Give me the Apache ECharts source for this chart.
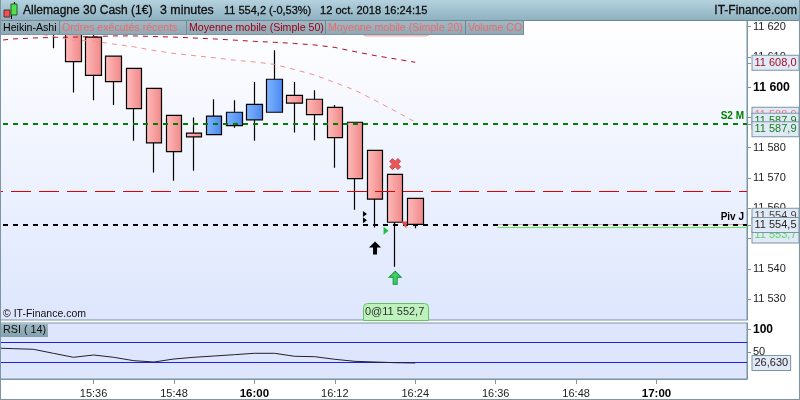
<!DOCTYPE html>
<html><head><meta charset="utf-8">
<style>html,body{margin:0;padding:0;background:#fff}#c{width:800px;height:400px}</style>
<script src="https://cdn.jsdelivr.net/npm/echarts@6/dist/echarts.min.js"></script>
</head><body><div id="c"></div>
<script>
const categories=['15:21','15:24','15:27','15:30','15:33','15:36','15:39','15:42','15:45','15:48','15:51','15:54','15:57','16:00','16:03','16:06','16:09','16:12','16:15','16:18','16:21','16:24','16:27','16:30','16:33','16:36','16:39','16:42','16:45','16:48','16:51','16:54','16:57','17:00','17:03','17:06','17:09','17:12'];
const timeLabels=['15:36','15:48','16:00','16:12','16:24','16:36','16:48','17:00'];
const boldTimes=['16:00','17:00'];
// open, close, low, high
const candles=[['-','-','-','-'],['-','-','-','-'],['-','-','-','-'],
[11628,11621,11612.8,11630],
[11619.5,11608.4,11598.2,11622],
[11616.5,11603.9,11595.7,11620],
[11610.2,11601.8,11594.1,11610.2],
[11606.2,11592.9,11582.3,11606.2],
[11599.6,11581.6,11571.8,11599.6],
[11590.7,11578.7,11569.1,11590.7],
[11584.8,11583.6,11572.4,11590.0],
[11584.3,11590.4,11584.3,11596.0],
[11587.3,11591.7,11586.6,11595.7],
[11589.2,11594.3,11582.3,11601.7],
[11591.7,11602.6,11591.7,11612.2],
[11597.3,11594.7,11585.0,11601.7],
[11596.0,11590.9,11582.5,11599.0],
[11593.3,11583.3,11573.4,11594.1],
[11588.4,11569.8,11559.5,11588.4],
[11579.1,11563.0,11553.7,11579.1],
[11571.2,11555.4,11540.7,11571.2],
[11563.3,11554.7,11553.4,11563.3]];
const ma50=[11615.2,11615.9,11616.2,11616.4,11616.5,11616.7,11616.9,11616.9,11616.7,11616.5,11616.2,11615.9,11615.5,11615.1,11614.8,11614.4,11613.9,11613.1,11611.7,11610.4,11609.3,11608.2];
const ma20=[11619.5,11618.8,11617.9,11616.7,11615.5,11615.2,11614.2,11613.3,11612.1,11611.1,11610.4,11609.7,11608.9,11608.3,11607.5,11605.8,11604.0,11601.5,11599.0,11595.6,11592.1,11588.5];
const rsi=[59.4,58,56.6,47.8,39.1,44.1,39.1,31.7,28.8,35.4,39.1,41.9,44.8,47.8,47.8,41.3,40.4,34.7,30.3,28.8,27.3,26.63];
const rsiBands=[71.4,28.2];
const priceTicks=[11530,11540,11550,11560,11570,11580,11590,11600,11610,11620];
const tagTicks=[11608.0,11587.9,11554.5];
const rsiTicks=[50,100];
const s2=11587.9, pivot=11554.5, resistance=11565.6, askLevel=11554.6, bidLevel=11553.7;
// value, text, colour, vertical shift of the tag, in drawing order
const tags=[[11608.0,'11 608,0','#a01020',0],[11588.9,'11 588,9','#f07878',-6],[11587.9,'11 587,9','#108018',-3],[11587.9,'11 587,9','#108018',5.5],[11553.7,'11 553,7','#50d860',8],[11554.9,'11 554,9','#444444',-8],[11554.5,'11 554,5','#222222',0]];
const titleParts=[['Allemagne 30 Cash (1€)',23,12],['3 minutes',160,12.4],['11 554,2 (-0,53%)',224,11],['12 oct. 2018 16:24:15',320,11.1]];
const legendChips=[['Heikin-Ashi',1,59,'#000000'],['Ordres exécutés récents',60,186,'#f06a6a'],['Moyenne mobile (Simple 50)',187,325,'#a00018'],['Moyenne mobile (Simple 20)',326,465,'#f06a6a'],['Volume CO',466,523,'#f06a6a']];

const FONT='"Liberation Sans",Arial,sans-serif';
const fmt=v=>String(v).replace(/^(\d\d)(\d+)/,'$1 $2');
const grad=(a,b,h)=>new echarts.graphic.LinearGradient(0,0,h?1:0,h?0:1,[{offset:0,color:a},{offset:1,color:b}]);
const rect=(x,y,w,h,fill,extra)=>Object.assign({type:'rect',silent:true,z:100,shape:{x,y,width:w,height:h},style:{fill}},extra||{});
const txt=(x,y,t,fill,size,extra)=>({type:'text',silent:true,z:101,x,y,style:Object.assign({text:t,fill,font:size+'px '+FONT,verticalAlign:'middle'},extra||{})});
const frame='#7b95a3';
const graphics=[
 rect(0,0,800,20,grad('#b4d2de','#8fb1c0')),
 rect(0,20,800,1,'#6f8a96'),
 rect(0,0,1,400,frame),rect(799,0,1,400,frame),rect(0,399,800,1,frame),
 rect(11,5,1,14,'#000'),rect(4,10,6,7,'#f05050',{style:{fill:'#f05050',stroke:'#503030',lineWidth:1}}),
 rect(11,4,6,11,'#50e050',{style:{fill:'#50e050',stroke:'#206020',lineWidth:1}}),
 rect(14,2,1,2,'#000'),
 rect(363,30,66,6,'#ffc0c0',{shape:{x:363,y:30,width:66,height:6,r:3},style:{fill:'#ffd0d0',stroke:'#f8a8a8',lineWidth:1}}),
 txt(797,11,'IT-Finance.com','#101010',12,{align:'right',stroke:'#101010',lineWidth:0.3}),
 txt(3,314,'© IT-Finance.com','#101010',10.5),
 rect(1,324,47,13,grad('#9fb8c4','#82a0ae')),
 txt(3,330.5,'RSI ( 14)','#101010',10.8),
 {type:'rect',silent:true,z:100,shape:{x:363.5,y:303.5,width:65,height:17,r:[4,4,0,0]},style:{fill:'#bdf2bd',stroke:'#62c562',lineWidth:1}},
 txt(365,312,'0@11 552,7','#303030',11)
];
titleParts.forEach(p=>graphics.push(txt(p[1],11,p[0],'#101010',p[2],{stroke:'#101010',lineWidth:0.3})));
legendChips.forEach(c=>{
 graphics.push(rect(c[1],21,c[2]-c[1],13.5,grad('#9fb8c4','#8ea8b4')));
 graphics.push(rect(c[2],21,1,14,'#6f8a96'));
 graphics.push(txt(c[1]+2,28,c[0],c[3],10.6));
});
graphics.push(rect(0,34,524,1,'#7b95a3'));

const hline=(v,color,w,dash,label)=>({yAxis:v,lineStyle:{color,width:w,type:dash},label:label?{show:true,formatter:label,position:'insideEndTop',distance:3,color,fontFamily:FONT,fontWeight:'bold',fontSize:10}:{show:false}});
const scatter=(name,symbol,size,x,v,offset,fill,stroke)=>({name,type:'scatter',xAxisIndex:0,yAxisIndex:0,symbol,symbolSize:size,symbolOffset:offset,silent:true,z:6,itemStyle:{color:fill,borderColor:stroke||fill,borderWidth:stroke?1:0,opacity:1},data:[[x,v]]});
const upArrow='path://M6 0L12 6H8V13H4V6H0Z';
const cross='path://M3 0L6 3L9 0L12 3L9 6L12 9L9 12L6 9L3 12L0 9L3 6L0 3Z';
const right='path://M0 0L6 4L0 8Z';
const down='path://M0 0L6 0L5 7Z';
const hidden={color:'rgba(0,0,0,0)',width:0};
const tagLabel=(text,color,dy)=>({show:true,position:'end',distance:5.5,formatter:text,color,fontFamily:FONT,fontSize:11,offset:[0,dy],backgroundColor:'#e2e9f6',borderColor:frame,borderWidth:1,padding:[2,2,1,2]});

const chart=echarts.init(document.getElementById('c'),null,{renderer:'canvas'});
chart.setOption({
 animation:false,backgroundColor:'#ffffff',graphic:graphics,
 grid:[
  {left:-17,width:764,top:20,height:300,outerBoundsMode:'none',show:true,borderColor:frame,borderWidth:1,backgroundColor:grad('#ffffff','#dde6fd')},
  {left:-17,width:764,top:323,height:56,outerBoundsMode:'none',show:true,borderColor:frame,borderWidth:1,backgroundColor:'#dde6fd'}],
 xAxis:[
  {type:'category',gridIndex:0,data:categories,show:false},
  {type:'category',gridIndex:1,data:categories,boundaryGap:true,
   axisLine:{show:true,onZero:false,lineStyle:{color:frame}},
   axisTick:{show:true,alignWithLabel:true,length:5,lineStyle:{color:frame},interval:(i,v)=>timeLabels.includes(v)},
   axisLabel:{show:true,margin:9,interval:(i,v)=>timeLabels.includes(v),color:'#222',fontFamily:FONT,fontSize:11,
    formatter:v=>boldTimes.includes(v)?'{b|'+v+'}':v,rich:{b:{fontWeight:'bold',fontSize:11.5,color:'#000',fontFamily:FONT}}},
   splitLine:{show:false}}],
 yAxis:[
  {type:'value',gridIndex:0,position:'right',min:11523.14,max:11622.15,scale:true,
   axisLine:{show:true,lineStyle:{color:frame}},
   axisTick:{show:true,length:4,lineStyle:{color:frame},customValues:priceTicks.concat(tagTicks)},
   axisLabel:{show:true,margin:6,color:'#222',fontFamily:FONT,fontSize:11,customValues:priceTicks,
    formatter:v=>v===11600?'{b|'+fmt(v)+'}':fmt(v),rich:{b:{fontWeight:'bold',fontSize:12.3,color:'#000',fontFamily:FONT}}},
   splitLine:{show:false}},
  {type:'value',gridIndex:1,position:'right',min:-8.3,max:114,
   axisLine:{show:true,lineStyle:{color:frame}},
   axisTick:{show:true,length:4,lineStyle:{color:frame},customValues:rsiTicks},
   axisLabel:{show:true,margin:6,color:'#222',fontFamily:FONT,fontSize:11,customValues:rsiTicks,
    formatter:v=>v===100?'{b|100}':String(v),rich:{b:{fontWeight:'bold',fontSize:12,color:'#000',fontFamily:FONT}}},
   splitLine:{show:false}}],
 series:[
  {name:'Heikin-Ashi',type:'candlestick',xAxisIndex:0,yAxisIndex:0,barWidth:16,silent:true,z:3,data:candles,
   itemStyle:{color:grad('#7fb6ff','#4b86f0',true),color0:grad('#ffbcbc','#f08686',true),borderColor:'#000',borderColor0:'#000',borderWidth:1.2}},
  {name:'MA50',type:'line',xAxisIndex:0,yAxisIndex:0,data:ma50,showSymbol:false,symbol:'none',z:4,silent:true,lineStyle:{color:'#b00a20',width:1,type:[5,5]}},
  {name:'MA20',type:'line',xAxisIndex:0,yAxisIndex:0,data:ma20,showSymbol:false,symbol:'none',z:4,silent:true,lineStyle:{color:'#f58f8f',width:1,type:[5,5]}},
  {name:'askBid',type:'line',xAxisIndex:0,yAxisIndex:0,data:[],z:4,silent:true,markLine:{silent:true,symbol:'none',animation:false,data:[]}},
  {name:'levels',type:'line',xAxisIndex:0,yAxisIndex:0,data:[],z:5,silent:true,
   markLine:{silent:true,symbol:'none',animation:false,data:[
    hline(resistance,'#e00000',1,[20,8]),
    hline(s2,'#008000',2,[5,5],'S2 M'),
    hline(pivot,'#000000',2,[5,5],'Piv J')
   ]}},
  scatter('stop',cross,11,20,11574.6,[0,0],'#e85858','#d04848'),
  scatter('buy',upArrow,[12,13],20,11537.1,[0,0],'#3fd060','#109040'),
  scatter('arrow',upArrow,[12,13],19,11546.9,[0,0],'#000000'),
  scatter('entry',right,[5,8],19,11552.6,[11,0],'#20c040'),
  scatter('exit',down,[6,7],20,11554.5,[9,0],'#e84848'),
  scatter('m1',right,[4,6],18,11558.1,[10,0],'#000000'),
  scatter('m2',right,[4,6],18,11556.1,[10,0],'#000000'),
  {name:'tags',type:'line',xAxisIndex:0,yAxisIndex:0,data:[],z:20,silent:true,
   markLine:{silent:true,symbol:'none',animation:false,
    data:tags.map(t=>({yAxis:t[0],lineStyle:hidden,label:tagLabel(t[1],t[2],t[3])}))}},
  {name:'RSI',type:'line',xAxisIndex:1,yAxisIndex:1,data:rsi,showSymbol:false,symbol:'none',z:5,silent:true,lineStyle:{color:'#202030',width:1},
   markLine:{silent:true,symbol:'none',animation:false,data:rsiBands.map(v=>({yAxis:v,lineStyle:{color:'#2020e0',width:1,type:'solid'},label:{show:false}}))}},
  {name:'rsiTag',type:'line',xAxisIndex:1,yAxisIndex:1,data:[],z:20,silent:true,
   markLine:{silent:true,symbol:'none',animation:false,data:[{yAxis:rsi[rsi.length-1],lineStyle:hidden,label:tagLabel('26,630','#222',0)}]}}
 ]
});
// the ask and bid lines run from just after 16:36 to the right edge of the plot
const startX=chart.convertToPixel({xAxisIndex:0},'16:36')+2;
const endX=chart.convertToPixel({yAxisIndex:0,xAxisIndex:0},[categories[categories.length-1],askLevel])[0]+10;
const span=(v,color)=>{const y=chart.convertToPixel({yAxisIndex:0},v);return [{x:startX,y,lineStyle:{color,width:1,type:'solid'},label:{show:false}},{x:endX,y}];};
chart.setOption({series:[{name:'askBid',markLine:{data:[span(askLevel,'#f49c9c'),span(bidLevel,'#55ee55')]}}]});
</script></body></html>
